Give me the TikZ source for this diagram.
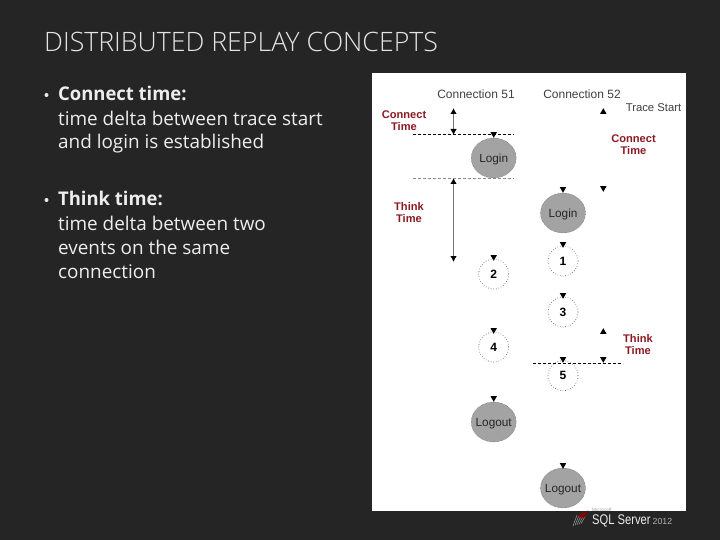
\documentclass[tikz,border=0pt]{standalone}
\usepackage{fontspec}
\setmainfont{Open Sans}
\newfontfamily\figfont{Liberation Sans}
\newfontfamily\logofont[FakeStretch=0.8]{Liberation Sans}
\newfontfamily\semifont[FakeStretch=0.975]{Open Sans Bold}
\newfontfamily\thinfont{Open Sans Light}
\definecolor{slidebg}{HTML}{252525}
\definecolor{slidetext}{HTML}{EDEDED}
\definecolor{titletext}{HTML}{E4E4E4}
\definecolor{lblred}{HTML}{8B1A22}
\definecolor{ovalgrey}{HTML}{A3A3A3}
\usetikzlibrary{shapes.geometric,arrows.meta}
\tikzset{
  titlelabel/.style={anchor=base west,inner sep=0,text=titletext,font=\thinfont\fontsize{26.7}{30}\selectfont},
  bodylabel/.style={anchor=base west,inner sep=0,text=slidetext,font=\fontsize{18.9}{22}\selectfont},
  headlabel/.style={bodylabel,font=\semifont\fontsize{18.9}{22}\selectfont},
  figlabel/.style={inner sep=0,text=black!75,font=\figfont\fontsize{12}{14}\selectfont},
  redlabel/.style={inner sep=0,align=center,text=lblred,font=\figfont\fontsize{11.1}{12}\selectfont\bfseries},
  greyoval/.style={ellipse,draw=black!70,densely dotted,line width=.4pt,fill=ovalgrey,minimum width=45pt,minimum height=40pt,inner xsep=-5pt,inner ysep=0pt,text depth=0pt,text=black!85,font=\figfont\fontsize{11.8}{14}\selectfont},
  numoval/.style={ellipse,draw=black!70,dotted,line width=.6pt,fill=white,minimum width=30pt,minimum height=30pt,inner sep=0,text=black,font=\figfont\fontsize{12}{14}\selectfont\bfseries},
  dashline/.style={black,densely dashed,line width=.6pt},
  paledash/.style={black!45,densely dashed,line width=.6pt},
  spanarrow/.style={black!55,line width=1pt,{Latex[black,length=6pt,width=6.5pt]}-{Latex[black,length=6pt,width=6.5pt]}},
  tickmark/.style={fill=black}
}
\newcommand{\dn}[2]{\fill[tickmark] (#1-3.2,#2-2.8) -- (#1+3.2,#2-2.8) -- (#1,#2+2.8) -- cycle;}
\newcommand{\up}[2]{\fill[tickmark] (#1-3.2,#2+2.8) -- (#1+3.2,#2+2.8) -- (#1,#2-2.8) -- cycle;}
\begin{document}
\begin{tikzpicture}[x=1pt,y=-1pt]
\useasboundingbox (0,0) rectangle (720,540);
\fill[slidebg] (0,0) rectangle (720,540);
\node[titlelabel] (title) at (44,51.5) {DISTRIBUTED REPLAY CONCEPTS};
\fill[slidetext] (46.5,95) circle (2);
\node[headlabel] (h1) at (58,101) {Connect time:};
\node[bodylabel] (b1a) at (58,125.5) {time delta between trace start};
\node[bodylabel] (b1b) at (58,149) {and login is established};
\fill[slidetext] (46.5,200) circle (2);
\node[headlabel] (h2) at (58,206) {Think time:};
\node[bodylabel] (b2a) at (58,230.5) {time delta between two};
\node[bodylabel] (b2b) at (58,254.5) {events on the same};
\node[bodylabel] (b2c) at (58,278.5) {connection};
% figure panel
\fill[white] (372,73) rectangle (686,511);
\node[figlabel] (c51) at (476,94.5) {Connection 51};
\node[figlabel] (c52) at (582,94.5) {Connection 52};
\node[figlabel,font=\figfont\fontsize{11.3}{14}\selectfont] (ts) at (653.5,107.5) {Trace Start};
\node[redlabel] (ct1) at (404,121) {Connect\\Time};
\node[redlabel] (ct2) at (633.5,144.5) {Connect\\Time};
\node[redlabel] (tt1) at (409,213) {Think\\Time};
\node[redlabel] (tt2) at (638,345) {Think\\Time};
\coordinate (a1a) at (453.5,108); \coordinate (a1b) at (453.5,135);
\coordinate (a2a) at (453.5,178); \coordinate (a2b) at (453.5,262);
\draw[spanarrow] (a1a) -- (a1b);
\draw[spanarrow] (a2a) -- (a2b);
\node[greyoval] (l51) at (493.7,158) {Login};
\node[greyoval] (l52) at (563,213) {Login};
\node[greyoval] (o51) at (493.7,422) {Logout};
\node[greyoval] (o52) at (563,488) {Logout};
\node[numoval] (n1) at (563,261) {1};
\node[numoval] (n2) at (493.7,274) {2};
\node[numoval] (n3) at (563,312) {3};
\node[numoval] (n4) at (493.7,347) {4};
\node[numoval] (n5) at (563,375.7) {5};
\coordinate (d1a) at (413,134.5); \coordinate (d1b) at (514,134.5);
\coordinate (d2a) at (413,178.5); \coordinate (d2b) at (514,178.5);
\coordinate (d3a) at (533,363.3); \coordinate (d3b) at (623,363.3);
\draw[dashline] (d1a) -- (d1b);
\draw[paledash] (d2a) -- (d2b);
\draw[dashline] (d3a) -- (d3b);
\up{603.3}{111}
\dn{603.3}{189}
\dn{493.7}{135}
\dn{563}{190}
\dn{563}{245}
\dn{493.7}{258}
\dn{563}{296}
\dn{493.7}{331}
\up{603.3}{331}
\dn{563}{360}
\dn{603.3}{360}
\dn{493.7}{399}
\dn{563}{466}
% product mark
\foreach \k in {0,1,2,3,4} {
  \draw[black!45,line width=.6pt] (573+\k*2,526-\k*0.6) -- (577+\k*2,515+\k*0.4);
}
\fill[red!55!black] (577,516) -- (588,510.5) -- (584,518) -- cycle;
\node[inner sep=0,anchor=base west,text=black!40,font=\fontsize{4.5}{5}\selectfont] (ms) at (592,511.5) {Microsoft};
\node[inner sep=0,anchor=base west,text=slidetext,font=\logofont\fontsize{14}{16}\selectfont] (sql) at (592,524.5) {SQL Server};
\node[inner sep=0,anchor=base west,text=black!30,font=\figfont\fontsize{8.8}{10}\selectfont] (yr) at (652.5,524) {2012};
\end{tikzpicture}
\end{document}
